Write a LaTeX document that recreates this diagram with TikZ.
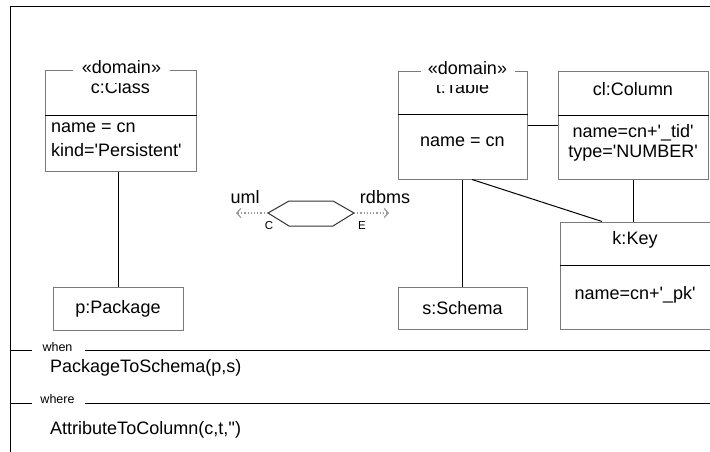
\documentclass[tikz,border=0pt]{standalone}
\usepackage{fontspec}
\setmainfont{Liberation Sans}[Ligatures=TeXOff]
\usetikzlibrary{arrows.meta}
\definecolor{boxgray}{HTML}{7A7A7A}
\definecolor{dotgray}{HTML}{9A9A9A}
\begin{document}
\begin{tikzpicture}[x=1pt,y=-1pt,
  box/.style={draw=boxgray, line width=1pt, inner sep=0pt, rectangle},
  divider/.style={draw=black, line width=1pt},
  lbl/.style={inner sep=0pt, font=\fontsize{18}{21}\selectfont},
  small/.style={inner sep=0pt, font=\fontsize{12.5}{14}\selectfont},
  tiny/.style={inner sep=0pt, font=\fontsize{11.5}{13}\selectfont},
  conn/.style={draw=black, line width=1pt},
  frame/.style={draw=black, line width=1pt},
  cover/.style={fill=white, draw=none, inner sep=0pt},
  flow/.style={draw=dotgray, line width=1.2pt, dotted, -{Straight Barb[length=4pt,width=9pt]}},
  hexa/.style={draw=black!80, line width=1pt},
  ]
\useasboundingbox (0,0) rectangle (710,452);
\fill[white] (0,0) rectangle (710,452);

% outer frame
\draw[frame] (10,452) -- (10,7) -- (712,7);

% c:Class
\node[box, minimum width=151pt, minimum height=100pt] (cls) at (120.5,121) {};
\draw[divider] (cls.west |- 0,115) -- (cls.east |- 0,115);
\node[lbl] (clsname) at (120.5,87) {c:Class};
\node[lbl, anchor=west] (clsa1) at (51,128) {name = cn};
\node[lbl, anchor=west] (clsa2) at (51,150) {kind='Persistent'};
\node[cover, minimum width=97pt, minimum height=26pt] (clscov) at (121.5,70.5) {};
\node[lbl] (clsst) at (121.5,67) {«domain»};

% p:Package
\node[box, minimum width=130pt, minimum height=43pt] (pkg) at (118,308.5) {};
\node[lbl] (pkgname) at (118,309) {p:Package};

% t:Table
\node[box, minimum width=129pt, minimum height=107pt] (tbl) at (462.5,125.5) {};
\draw[divider] (tbl.west |- 0,114) -- (tbl.east |- 0,114);
\node[lbl] (tblname) at (462.5,87) {t:Table};
\node[lbl] (tbla1) at (462.5,142) {name = cn};
\node[cover, minimum width=94pt, minimum height=28pt] (tblcov) at (468,71.5) {};
\node[lbl] (tblst) at (467.5,68) {«domain»};

% cl:Column
\node[box, minimum width=150pt, minimum height=107pt] (col) at (633,125.5) {};
\draw[divider] (col.west |- 0,115) -- (col.east |- 0,115);
\node[lbl] (colname) at (633,89) {cl:Column};
\node[lbl] (cola1) at (633,133) {name=cn+'\_tid'};
\node[lbl] (cola2) at (633,153) {type='NUMBER'};

% k:Key
\node[box, minimum width=152pt, minimum height=107pt] (key) at (636,275.5) {};
\draw[divider] (key.west |- 0,265) -- (key.east |- 0,265);
\node[lbl] (keyname) at (635,240) {k:Key};
\node[lbl] (keya1) at (635,295) {name=cn+'\_pk'};

% s:Schema
\node[box, minimum width=129pt, minimum height=42pt] (sch) at (462.5,308) {};
\node[lbl] (schname) at (462.5,308) {s:Schema};

% connectors
\draw[conn] (cls.south -| pkg.north) -- (pkg.north);
\draw[conn] (tbl.east) -- (col.west);
\draw[conn] (tbl.south) -- (sch.north);
\draw[conn] ([xshift=9.5pt]tbl.south) -- ([xshift=-34pt]key.north);
\draw[conn] (col.south) -- (col.south |- key.north);

% transformation hexagon
\coordinate (hl) at (268,213);
\coordinate (htl) at (289,201);
\coordinate (htr) at (333,201);
\coordinate (hr) at (354,213);
\coordinate (hbr) at (333,226);
\coordinate (hbl) at (289,226);
\draw[hexa] (hl) -- (htl) -- (htr) -- (hr) -- (hbr) -- (hbl) -- cycle;
\coordinate (umlend) at (236,213);
\coordinate (rdbend) at (389,213);
\draw[flow] (hl) -- (umlend);
\draw[flow] (hr) -- (rdbend);
\node[lbl] (uml) at (245,197) {uml};
\node[lbl] (rdbms) at (385,197) {rdbms};
\node[tiny] (cC) at (269,226) {C};
\node[tiny] (cE) at (362,226) {E};

% when / where
\draw[frame] (10,350) -- (32,350);
\node[small] (when) at (57.5,347) {when};
\draw[frame] (85,350) -- (712,350);
\node[lbl, anchor=west] (whentxt) at (50,368) {PackageToSchema(p,s)};
\draw[frame] (10,403) -- (32,403);
\node[small] (where) at (57.5,399) {where};
\draw[frame] (85,403) -- (712,403);
\node[lbl, anchor=west] (wheretxt) at (50,430) {AttributeToColumn(c,t,'')};
\end{tikzpicture}
\end{document}
